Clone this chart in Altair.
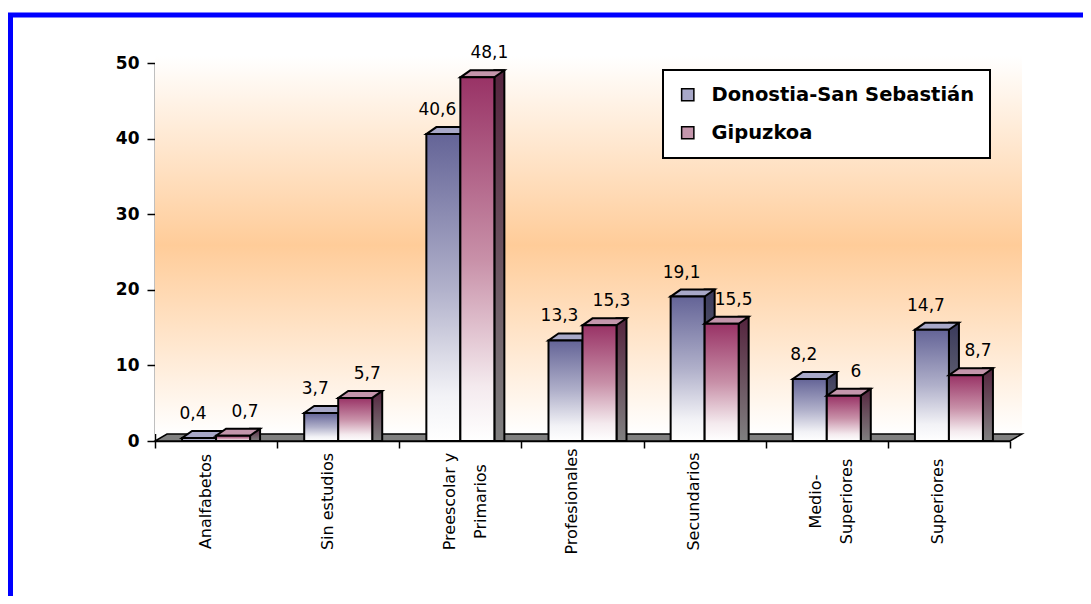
import altair as alt
import pandas as pd

categories = ["Analfabetos", "Sin estudios", "Preescolar y\nPrimarios", "Profesionales",
              "Secundarios", "Medio-\nSuperiores", "Superiores"]
series = ["Donostia-San Sebastián", "Gipuzkoa"]
donostia = [0.4, 3.7, 40.6, 13.3, 19.1, 8.2, 14.7]
gipuzkoa = [0.7, 5.7, 48.1, 15.3, 15.5, 6.0, 8.7]
y_ticks = [0, 10, 20, 30, 40, 50]

# layout / style constants
W, H = 855, 378
BW, DX, DY = 34, 10, 7
FONT = "DejaVu Sans"

rows = []
for c, a, b in zip(categories, donostia, gipuzkoa):
    rows.append({"cat": c, "serie": series[0], "value": a})
    rows.append({"cat": c, "serie": series[1], "value": b})
df = pd.DataFrame(rows)


def vgrad(stops):
    return alt.Gradient(gradient="linear", x1=0, y1=0, x2=0, y2=1,
                        stops=[alt.GradientStop(offset=o, color=c) for o, c in stops])


x_enc = alt.X("cat:N", sort=categories, title=None,
              scale=alt.Scale(paddingInner=0, paddingOuter=0),
              axis=alt.Axis(labelExpr="split(datum.label, '\\n')", tickBand="extent",
                            tickSize=7, tickColor="black", tickWidth=1.5,
                            domainColor="black", domainWidth=1.5,
                            labelAngle=270, labelAlign="center", labelBaseline="middle",
                            labelPadding=53, labelLineHeight=31, labelOffset=-11,
                            labelFont=FONT, labelFontSize=16, labelColor="black",
                            labelLimit=300))
y_enc = alt.Y("value:Q", title=None, scale=alt.Scale(domain=[0, 50], nice=False),
              axis=alt.Axis(values=y_ticks, grid=False, tickSize=8, tickColor="black",
                            tickWidth=1.5, domainColor="black", domainWidth=1.5,
                            labelPadding=8, labelFont=FONT, labelFontSize=17,
                            labelFontWeight="bold", labelColor="black"))

one = pd.DataFrame({"a": [0]})

border = alt.Chart(one).mark_rect(fill="white", fillOpacity=0, stroke="#0000FF",
                                  strokeWidth=5).encode(
    x=alt.value(-144.5), x2=alt.value(W + 300), y=alt.value(-48), y2=alt.value(H + 400))

wall = alt.Chart(one).mark_rect(
    fill=vgrad([(0, "#FFFFFF"), (0.5, "#FFCC99"), (1, "#FFFFFF")])).encode(
    x=alt.value(0), x2=alt.value(W + DX + 2), y=alt.value(-DY), y2=alt.value(H - DY))

floor_path = f"M0,0L{W},0L{W + DX + 2},{-DY}L{DX + 2},{-DY}Z"
floor = alt.Chart(one).mark_point(shape=floor_path, size=4, filled=True, opacity=1,
                                  fill="#808080", stroke="black", strokeWidth=1.5).encode(
    x=alt.value(0), y=alt.value(H))

top_path = f"M0,0L{BW},0L{BW + DX},{-DY}L{DX},{-DY}Z"

styles = {
    series[0]: dict(front=[(0, "#646497"), (0.5, "#B0B0CA"), (0.85, "#F2F2F6"), (1, "#FFFFFF")],
                    side=[(0, "#3A3A5C"), (1, "#808080")], off=-BW, shift=-6),
    series[1]: dict(front=[(0, "#993366"), (0.5, "#C890A8"), (0.85, "#F4EAEE"), (1, "#FFFFFF")],
                    side=[(0, "#55243E"), (1, "#808080")], off=0, shift=12),
}
top_colors = ["#A8A8C8", "#C496AC"]

layers = [border, wall, floor]
label_layers = []
for s in series:
    st = styles[s]
    center = st["off"] + BW / 2
    base = alt.Chart(df).transform_filter(alt.datum.serie == s)
    side = base.mark_bar(width=DX, xOffset=st["off"] + BW + DX / 2, yOffset=-DY,
                         fill=vgrad(st["side"]), stroke="black", strokeWidth=2).encode(
        x=x_enc, y=y_enc, y2=alt.datum(0))
    top = base.mark_point(shape=top_path, size=4, filled=True, opacity=1, stroke="black",
                          strokeWidth=2, xOffset=st["off"]).encode(
        x=x_enc, y=y_enc,
        fill=alt.Fill("serie:N", scale=alt.Scale(domain=series, range=top_colors),
                      legend=alt.Legend(title=None, orient="none", legendX=508, legendY=7,
                                        direction="vertical", fillColor="white",
                                        strokeColor="black", padding=15, rowPadding=17,
                                        symbolType="square", symbolSize=150,
                                        symbolStrokeColor="black", symbolStrokeWidth=1.5,
                                        symbolOpacity=1, labelFont=FONT, labelFontSize=19.5,
                                        labelFontWeight="bold", labelColor="black",
                                        labelOffset=14, labelLimit=400)))
    front = base.mark_bar(width=BW, xOffset=center, fill=vgrad(st["front"]),
                          stroke="black", strokeWidth=2).encode(
        x=x_enc, y=y_enc, y2=alt.datum(0))
    lab = base.transform_calculate(
        label="replace(toString(datum.value), '.', ',')").mark_text(
        dx=center + st["shift"], dy=-19, baseline="alphabetic", align="center",
        font=FONT, fontSize=17, color="black").encode(x=x_enc, y=y_enc, text="label:N")
    layers += [side, top, front]
    label_layers.append(lab)

chart = alt.layer(*layers, *label_layers).properties(
    width=W, height=H, background="white",
    autosize=alt.AutoSizeParams(type="none"),
    padding={"left": 147, "top": 55, "right": 73, "bottom": 155},
).configure_view(strokeWidth=0).configure_legend(strokeWidth=2)

chart.save("out.html", embed_options={"renderer": "svg", "actions": False})
